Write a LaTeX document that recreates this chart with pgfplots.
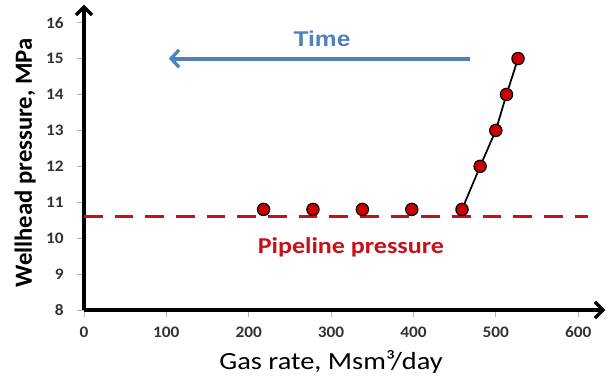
\documentclass[border=0pt]{standalone}
\usepackage{fontspec}
\setmainfont{Carlito}
\newfontfamily\arialfont{Liberation Sans}
\usepackage{pgfplots}
\pgfplotsset{compat=1.18}
\usetikzlibrary{arrows.meta}
\definecolor{pipered}{RGB}{200,16,26}
\definecolor{ptred}{RGB}{204,0,0}
\definecolor{timeblue}{RGB}{79,129,189}
\definecolor{ticklab}{RGB}{50,50,50}
\begin{document}
\begin{tikzpicture}[x=0.75pt,y=0.75pt]
\path[use as bounding box] (-84,-70) rectangle (524,310);
\begin{axis}[
  at={(0,0)}, anchor=origin,
  scale only axis,
  width=391pt, height=229pt,
  xmin=0, xmax=633, ymin=8, ymax=16.5,
  axis x line=bottom, axis y line=left,
  axis line style={line width=3pt, -{Straight Barb[length=6pt,width=12pt,line width=2.5pt]}},
  xtick={0,100,...,600}, ytick={8,...,16},
  tick align=outside,
  major tick length=5pt,
  tick style={gray!60, line width=0.6pt},
  every tick label/.append style={font=\bfseries\fontsize{12}{14}\selectfont, text=ticklab, xscale=1.08},
  /pgf/number format/assume math mode=true,
  xticklabel style={yshift=-4pt},
  yticklabel style={xshift=-6pt},
  xlabel={Gas rate, Msm³/day},
  ylabel={\bfseries Wellhead pressure, MPa},
  xlabel style={font=\fontsize{18.5}{20}\selectfont, xscale=1.15, at={(axis description cs:0.474,-0.170)}, anchor=center},
  ylabel style={font=\fontsize{18.5}{20}\selectfont, at={(axis description cs:-0.113,0.482)}, anchor=center},
  clip=false,
]
% pipeline pressure
\addplot[pipered, line width=2.3pt, dash pattern=on 14pt off 9pt] coordinates {(0,10.6) (612,10.6)};
% time arrow
\addplot[timeblue, line width=3pt, -{Straight Barb[length=6pt,width=13pt,line width=2.5pt]}] coordinates {(469,15) (103,15)};
% flat points
\addplot[only marks, mark=*, mark size=4.6pt, mark options={fill=ptred, draw=black, line width=0.9pt}] coordinates {(218,10.8) (278,10.8) (338,10.8) (398,10.8)};
% rising line
\addplot[black, line width=1.3pt, mark=*, mark size=4.6pt, mark options={fill=ptred, draw=black, line width=0.9pt}] coordinates {(459,10.8) (481,12) (500,13) (513,14) (527,15)};
\node[font=\arialfont\bfseries\fontsize{16}{18}\selectfont, text=timeblue, xscale=1.15] at (axis cs:289,15.55) {Time};
\node[font=\bfseries\fontsize{17}{19}\selectfont, text=pipered, xscale=1.15] at (axis cs:324,9.75) {Pipeline pressure};
\end{axis}
\end{tikzpicture}
\end{document}
